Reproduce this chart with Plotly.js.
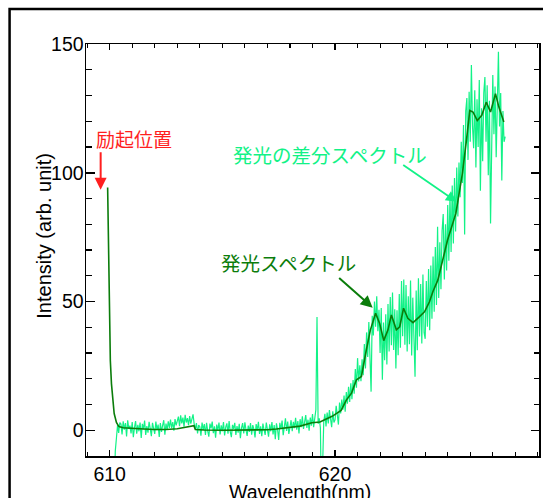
<!DOCTYPE html>
<html><head><meta charset="utf-8">
<script src="https://cdn.plot.ly/plotly-3.0.1.min.js"></script>
<style>html,body{margin:0;padding:0;background:#fff;}#chart{width:543px;height:498px;}</style>
</head><body><div id="chart"></div>
<script>
// Emission spectrum (smooth, dark green)
const emissionWavelength = [609.91, 610.03, 610.08, 610.13, 610.2, 610.3, 610.41, 610.6, 611.0, 611.5, 612.0, 612.5, 613.0, 613.4, 613.74, 613.8, 614.2, 615.0, 616.0, 617.0, 617.4, 618.0, 618.45, 618.97, 619.33, 619.87, 620.27, 620.5, 620.73, 620.95, 621.17, 621.39, 621.57, 621.8, 621.98, 622.16, 622.35, 622.5, 622.72, 622.87, 623.04, 623.23, 623.46, 623.75, 623.97, 624.19, 624.34, 624.56, 624.99, 625.36, 625.65, 625.83, 625.98, 626.12, 626.31, 626.51, 626.71, 626.9, 627.12, 627.27, 627.49];
const emissionIntensity = [94.3, 27, 18, 12.6, 6.5, 3, 1.4, 1.0, 0.9, 0.5, 0.3, 0.3, 0.6, 1.2, 1.8, 0.3, 0.1, 0, 0, 0.2, 0.5, 1.2, 1.6, 2.9, 3.2, 5.4, 7.7, 11.7, 14.4, 19.6, 20.9, 31.2, 39, 45.4, 41.5, 34.8, 39, 44.8, 39, 40.2, 47.4, 43.5, 41.8, 44.1, 46, 49.9, 53.8, 58.3, 73.8, 84.2, 99.7, 112.6, 124.2, 123.6, 120.3, 122.3, 127.4, 123.6, 130.7, 125.5, 119.7];

// Difference spectrum (noisy, bright green), sampled every 0.05 nm, in segments
const diffStep = 0.05;
const diffSegmentStarts = [610.15, 610.50, 613.00, 614.00, 618.00, 620.00, 622.00, 624.00, 625.50];
const diffNearExcitation = [-40, -20, -8, -3, 2, -1, 3];
const diffBaselineLow = [2.4, -1.6, 3.5, 0.2, 2.8, -2.4, 3.9, 0.5, 1.8, -1.2,
  3.2, -2.7, 1.0, 3.6, -1.3, 2.1, -0.4, 3.0, -3.0, 2.5,
  0.4, 3.8, -1.8, 1.6, -0.9, 3.3, 0.6, -2.3, 2.9, 1.2,
  -1.4, 3.4, 0.0, 2.2, -2.6, 2.8, -0.6, 1.9, 3.9, -1.7,
  2.6, 0.1, 3.5, 0.9, 4.1, 0.8, 3.2, -0.2, 4.3, 1.9];
const diffBump = [3.2, 5.3, 1.6, 5.8, 2.7, 4.9, 1.4, 6.0, 3.0, 4.7, 2.0, 5.5, 2.6, 5.1, 6.2, 2.4, 0.5, 2.8, -1.2, 2.0];
const diffBaselineMid = [1.4, -2.1, 3.0, 0.2, 2.4, -1.8, 2.9, -0.3, -2.5, 2.6,
  0.7, 3.4, -1.1, 1.5, -2.9, 2.2, -0.1, 3.0, -1.6, 1.9,
  -0.4, 3.2, -2.0, 1.2, 2.7, -1.3, 3.6, -0.5, -2.7, 2.1,
  0.5, 2.9, -1.8, 1.6, -0.9, 2.5, -3.1, 0.9, 2.8, -1.2,
  3.1, 0.1, -2.2, 1.8, -0.6, 2.8, -1.7, 2.0, 0.4, -2.8,
  2.4, -0.2, 3.3, -1.4, 1.5, -2.3, 2.6, 0.2, -1.8, 3.0,
  0.7, -2.5, 2.3, -0.4, 3.2, -1.6, 2.0, -3.5, 2.7, 0.3,
  -3.8, 2.9, 0.4, 3.8, -1.9, 2.5, 4.6, -0.3, 3.4, -1.4];
const diffSpikeRegion = [1.8, 3.9, -0.4, 3.3, 0.8, 4.8, 0.2, 3.6, -1.2, 4.3,
  1.2, 5.4, 0.5, 3.2, 5.9, 0.9, 4.1, -0.2, 4.9, 1.8,
  6.3, 1.2, 4.4, 8.0, 44.0, 2.5, 4.6, 1.0, -30, -12,
  3.4, 6.4, 1.5, 6.9, 2.6, 7.8, 3.5, 1.2, 7.4, 3.0];
const diffRiseA = [4.0, 9.5, 6.0, 2.2, 10.8, 6.5, 11.9, 8.0, 13.5, 7.2,
  14.8, 10.3, 16.9, 11.0, 18.2, 12.1, 19.5, 14.2, 23.8, 16.5,
  28.0, 18.9, 25.2, 19.0, 27.6, 21.4, 33.5, 24.0, 38.0, 28.5,
  42.0, 31.2, 15.0, 44.5, 36.8, 50.0, 40.2, 52.0, 38.5, 46.8];
const diffRiseB = [30.0, 47.5, 19.6, 41.8, 27.2, 45.0, 25.5, 49.0, 30.6, 51.7,
  33.0, 53.5, 31.2, 47.0, 24.0, 46.6, 29.1, 52.9, 32.0, 58.0,
  36.5, 58.5, 33.2, 56.4, 30.6, 52.0, 33.4, 58.2, 29.0, 51.5,
  34.9, 20.8, 54.3, 31.1, 59.0, 36.4, 56.8, 33.7, 60.5, 38.0];
const diffRiseC = [35.5, 58.0, 40.2, 62.6, 38.8, 64.0, 43.3, 67.5, 46.0, 71.2,
  48.6, 79.0, 51.4, 73.0, 54.8, 77.5, 84.0, 58.5, 80.0, 62.0,
  87.5, 65.8, 91.0, 69.2, 95.0, 72.5, 98.0, 77.2, 102.0, 83.0];
const diffTop = [104.0, 90.5, 112.0, 96.0, 118.5, 76.0, 124.0, 129.0, 105.0, 131.5,
  112.0, 141.8, 118.0, 109.5, 132.0, 102.0, 128.5, 110.0, 136.0, 93.0,
  125.0, 104.5, 131.0, 137.2, 112.0, 134.0, 99.0, 128.0, 80.3, 121.0,
  138.0, 115.0, 133.5, 106.0, 128.0, 147.0, 118.0, 131.0, 97.0, 124.0,
  112.0, 114.0];
const diffSegments = [diffNearExcitation, diffBaselineLow, diffBump, diffBaselineMid, diffSpikeRegion, diffRiseA, diffRiseB, diffRiseC, diffTop];

// Labels
const xAxisLabel = 'Wavelength(nm)';
const yAxisLabel = 'Intensity (arb. unit)';
const labelExcitation = '励起位置';
const labelDiff = '発光の差分スペクトル';
const labelEmission = '発光スペクトル';

const diffX = [], diffY = [];
diffSegments.forEach((seg, s) => {
  seg.forEach((v, i) => {
    diffX.push(Math.round((diffSegmentStarts[s] + i * diffStep) * 100) / 100);
    diffY.push(v);
  });
});

const red = '#FF1F1F', light = '#12F287', dark = '#0B7D0B';
const latin = 'Liberation Sans, Arial, sans-serif';
const jp = 'Noto Sans CJK JP, sans-serif';

// pixel helpers for layout placement
const PL = 86, PR = 539.5, PT = 44, PB = 456.5;
const px = x => (x - PL) / (PR - PL);
const py = y => (PB - y) / (PB - PT);

const traces = [
  {x: diffX, y: diffY, type: 'scatter', mode: 'lines', line: {color: light, width: 1.2}, hoverinfo: 'skip'},
  {x: emissionWavelength, y: emissionIntensity, type: 'scatter', mode: 'lines', line: {color: dark, width: 1.6}, hoverinfo: 'skip'}
];

const axCommon = {
  ticks: 'inside', tickcolor: '#000', tickwidth: 1.5,
  showline: true, linecolor: '#000', linewidth: 1.5, mirror: 'ticks',
  showgrid: false, zeroline: false,
  tickfont: {family: latin, size: 19.5, color: '#000'}
};

const txt = (x, y, text, font, extra) => Object.assign({xref: 'paper', yref: 'paper', x: px(x), y: py(y), xanchor: 'center', yanchor: 'middle', text: text, showarrow: false, font: font}, extra || {});

const layout = {
  width: 543, height: 498,
  margin: {l: PL, r: 543 - PR, t: PT, b: 498 - PB, pad: 0},
  paper_bgcolor: '#fff', plot_bgcolor: '#fff',
  showlegend: false, hovermode: false,
  xaxis: Object.assign({}, axCommon, {
    range: [608.95, 629.05], tickmode: 'linear', tick0: 610, dtick: 10, ticklen: 6,
    minor: {tickmode: 'linear', tick0: 610, dtick: 1, ticks: 'inside', ticklen: 4, tickwidth: 1.2, tickcolor: '#000', showgrid: false}
  }),
  yaxis: Object.assign({}, axCommon, {
    range: [-10, 150], tickmode: 'linear', tick0: 0, dtick: 50, ticklen: 8.5, ticklabelstandoff: -3,
    minor: {tickmode: 'linear', tick0: 0, dtick: 10, ticks: 'inside', ticklen: 5.5, tickwidth: 1.2, tickcolor: '#000', showgrid: false}
  }),
  shapes: [
    {type: 'rect', xref: 'paper', yref: 'paper', x0: px(9.5), x1: px(600), y0: py(560), y1: py(9), line: {color: '#000', width: 2.5}, fillcolor: 'rgba(0,0,0,0)', layer: 'above'}
  ],
  annotations: [
    txt(44.4, 235.5, yAxisLabel, {family: latin, size: 20, color: '#000'}, {textangle: -90}),
    txt(300, 492.5, xAxisLabel, {family: latin, size: 19.5, color: '#000'}),
    txt(134, 138.5, labelExcitation, {family: jp, size: 19, color: red}),
    txt(330, 155, labelDiff, {family: jp, size: 19.5, color: light}),
    txt(289, 263, labelEmission, {family: jp, size: 19.5, color: dark}),
    {xref: 'x', yref: 'y', x: 609.60, y: 93.4, ax: 0, ay: -39, text: '', showarrow: true, arrowhead: 2, arrowsize: 1.2, arrowwidth: 2, arrowcolor: red, standoff: 0},
    {xref: 'x', yref: 'y', x: 625.40, y: 88.7, ax: -55, ay: -38, text: '', showarrow: true, arrowhead: 2, arrowsize: 1.2, arrowwidth: 1.8, arrowcolor: light, standoff: 0},
    {xref: 'x', yref: 'y', x: 621.67, y: 47.6, ax: -35, ay: -31, text: '', showarrow: true, arrowhead: 2, arrowsize: 1.2, arrowwidth: 2, arrowcolor: dark, standoff: 0}
  ]
};

Plotly.newPlot('chart', traces, layout, {staticPlot: true, displayModeBar: false});
</script>
</body></html>
